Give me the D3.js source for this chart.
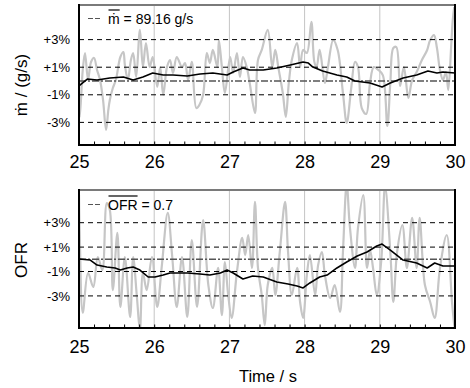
<!DOCTYPE html>
<html>
<head>
<meta charset="utf-8">
<script src="https://cdn.jsdelivr.net/npm/d3@7"></script>
<style>
body { margin: 0; background: #fff; }
svg { display: block; font-family: "Liberation Sans", Arial, sans-serif; }
</style>
</head>
<body>
<script>
// axis values
const timeTicks = [25, 26, 27, 28, 29, 30];
const pctTicks = [3, 1, -1, -3];

// mass flow deviation from mean, % : [time s, value]
const mdotRaw = [[25.00,-1.74],[25.01,-2.61],[25.05,0.80],[25.08,2.03],[25.12,0.07],[25.16,1.38],[25.20,1.67],[25.24,0.80],[25.28,0.07],[25.32,-1.38],[25.36,-3.55],[25.39,-2.10],[25.41,-1.38],[25.45,-0.51],[25.49,0.07],[25.55,1.74],[25.59,2.10],[25.61,1.16],[25.65,0.07],[25.69,1.52],[25.72,2.03],[25.76,0.29],[25.81,3.70],[25.85,1.01],[25.89,2.75],[25.94,1.01],[25.98,1.74],[26.04,-0.43],[26.08,1.01],[26.12,-1.01],[26.17,1.01],[26.21,1.52],[26.25,0.58],[26.30,1.74],[26.37,1.01],[26.41,1.30],[26.45,0.07],[26.50,1.38],[26.56,-1.96],[26.60,-1.74],[26.65,-1.01],[26.70,2.03],[26.74,1.30],[26.78,2.25],[26.84,1.01],[26.86,2.97],[26.90,1.01],[26.94,-0.87],[27.01,1.74],[27.05,0.58],[27.10,2.03],[27.14,0.29],[27.18,1.74],[27.23,1.01],[27.27,-0.14],[27.34,-2.32],[27.38,1.52],[27.43,2.25],[27.51,3.70],[27.57,1.01],[27.61,2.25],[27.65,1.01],[27.71,-0.87],[27.75,-2.61],[27.79,-0.14],[27.83,1.52],[27.90,2.75],[27.94,1.01],[27.98,2.25],[28.03,2.03],[28.09,4.28],[28.13,1.38],[28.16,1.01],[28.20,2.25],[28.27,-0.14],[28.31,1.01],[28.38,2.97],[28.44,2.25],[28.51,-0.87],[28.56,-3.04],[28.62,-0.51],[28.67,1.38],[28.71,1.01],[28.76,-1.96],[28.82,-2.39],[28.87,-0.14],[28.92,1.01],[28.98,0.80],[29.04,0.43],[29.10,-3.26],[29.14,-0.14],[29.18,2.39],[29.22,2.46],[29.27,-0.36],[29.32,1.01],[29.38,-1.23],[29.43,0.07],[29.49,0.65],[29.56,1.52],[29.63,2.25],[29.67,2.97],[29.72,3.33],[29.76,2.39],[29.80,0.80],[29.84,0.07],[29.88,0.65],[29.91,-0.65],[29.95,2.61],[29.97,4.42],[29.99,5.36]];
const mdotAvg = [[25.00,-0.36],[25.11,0.14],[25.24,0.07],[25.41,0.22],[25.59,0.29],[25.72,0.07],[25.85,0.29],[25.98,0.58],[26.12,0.43],[26.25,0.43],[26.44,0.36],[26.61,0.51],[26.78,0.58],[26.97,0.43],[27.05,0.65],[27.18,0.94],[27.27,0.80],[27.45,0.80],[27.63,0.94],[27.81,1.16],[27.98,1.38],[28.05,1.30],[28.11,1.01],[28.24,0.72],[28.43,0.43],[28.56,0.29],[28.67,0.00],[28.87,-0.14],[29.03,-0.43],[29.14,-0.14],[29.31,0.22],[29.49,0.43],[29.64,0.72],[29.76,0.58],[29.84,0.65],[30.00,0.58]];

// OFR deviation from mean, % : [time s, value]
const ofrRaw = [[25.00,5.27],[25.01,1.99],[25.05,-4.37],[25.12,-1.12],[25.19,-2.27],[25.25,0.19],[25.31,-0.88],[25.37,4.61],[25.41,4.04],[25.45,-2.52],[25.51,2.16],[25.55,-3.91],[25.61,0.19],[25.68,-4.73],[25.72,0.19],[25.77,-3.09],[25.81,-5.80],[25.85,-1.12],[25.90,-2.52],[25.97,0.19],[26.04,-3.91],[26.10,-0.63],[26.18,3.80],[26.24,0.19],[26.30,-3.91],[26.37,0.19],[26.44,-4.73],[26.50,1.58],[26.57,-3.91],[26.65,3.22],[26.72,-2.11],[26.78,-3.99],[26.85,-0.71],[26.90,-4.57],[26.94,-0.22],[26.98,-2.68],[27.03,-4.81],[27.10,-1.04],[27.17,1.75],[27.21,0.35],[27.25,1.99],[27.30,-0.71],[27.34,4.70],[27.38,-0.71],[27.43,-2.93],[27.47,-5.39],[27.51,-2.11],[27.57,-0.71],[27.61,-2.93],[27.67,0.60],[27.74,4.70],[27.78,0.60],[27.83,-2.93],[27.90,-0.71],[27.94,-3.50],[27.98,-4.81],[28.03,-1.29],[28.07,0.35],[28.14,-2.93],[28.18,-0.47],[28.23,0.60],[28.27,-1.29],[28.34,-3.17],[28.40,-2.11],[28.47,-4.32],[28.51,0.60],[28.56,6.20],[28.60,2.81],[28.67,-0.71],[28.71,2.57],[28.78,5.27],[28.83,-0.71],[28.87,0.76],[28.91,-0.71],[28.96,-2.93],[29.02,-0.06],[29.07,6.00],[29.14,0.60],[29.18,-3.50],[29.23,0.60],[29.30,2.81],[29.36,-0.71],[29.43,3.39],[29.49,-0.71],[29.53,3.39],[29.60,-2.11],[29.67,-3.50],[29.73,-4.81],[29.80,-0.71],[29.89,1.99],[29.96,-3.50],[29.99,-5.39],[30.00,-5.80]];
const ofrAvg = [[25.00,0.02],[25.15,-0.06],[25.24,-0.47],[25.37,-0.63],[25.48,-0.71],[25.55,-0.88],[25.64,-0.71],[25.72,-0.63],[25.81,-0.88],[25.92,-1.45],[26.01,-1.45],[26.12,-1.29],[26.21,-1.12],[26.30,-1.12],[26.44,-1.12],[26.61,-1.20],[26.74,-1.29],[26.88,-1.12],[26.97,-0.88],[27.05,-1.12],[27.18,-1.61],[27.31,-1.37],[27.45,-1.45],[27.63,-1.86],[27.78,-2.02],[27.90,-2.19],[27.98,-2.35],[28.07,-1.94],[28.20,-1.45],[28.30,-1.29],[28.43,-0.71],[28.56,-0.22],[28.70,0.27],[28.83,0.60],[28.96,1.09],[29.03,1.25],[29.14,0.76],[29.31,-0.06],[29.49,-0.30],[29.63,-0.71],[29.73,-0.30],[29.84,-0.55],[30.00,-0.55]];

const panels = [
    { name: "mdot", top: 5, bottom: 145, domain: [-4.64, 5.51], raw: mdotRaw, avg: mdotAvg,
      sym: "ṁ", rest: " = 89.16 g/s", legendY: 23.5, title: "ṁ / (g/s)", titleY: 85, labelPad: 10 },
    { name: "ofr", top: 190, bottom: 328, domain: [-5.63, 5.68], raw: ofrRaw, avg: ofrAvg,
      sym: "OFR", rest: " = 0.7", legendY: 209.5, title: "OFR", titleY: 260, labelPad: 12 }
];

const svg = d3.select("body").append("svg")
    .attr("width", 470)
    .attr("height", 388);

const left = 79, right = 455;
const x = d3.scaleLinear().domain([25, 30]).range([left, right]);
const minorTicks = d3.range(25, 30.001, 0.2);

panels.forEach(p => {
    const y = d3.scaleLinear().domain(p.domain).range([p.bottom, p.top]);
    const g = svg.append("g");
    const clipId = "clip-" + p.name;

    svg.append("clipPath").attr("id", clipId)
        .append("rect")
        .attr("x", left).attr("y", p.top)
        .attr("width", right - left).attr("height", p.bottom - p.top);

    //vertical grid
    g.selectAll(".vgrid").data(timeTicks.slice(1, -1)).enter()
        .append("line")
        .attr("x1", d => x(d)).attr("x2", d => x(d))
        .attr("y1", p.top).attr("y2", p.bottom)
        .attr("stroke", "#c4c4c4").attr("stroke-width", 1);

    const rawLine = d3.line().curve(d3.curveCatmullRom.alpha(0.5)).x(d => x(d[0])).y(d => y(d[1]));
    const avgLine = d3.line().x(d => x(d[0])).y(d => y(d[1]));

    //raw signal
    g.append("path").datum(p.raw)
        .attr("d", rawLine)
        .attr("fill", "none")
        .attr("stroke", "#c6c6c6")
        .attr("stroke-width", 2.2)
        .attr("stroke-linejoin", "round")
        .attr("clip-path", `url(#${clipId})`);

    //percent lines
    g.selectAll(".hgrid").data(pctTicks).enter()
        .append("line")
        .attr("x1", left).attr("x2", right)
        .attr("y1", d => y(d)).attr("y2", d => y(d))
        .attr("stroke", "#000").attr("stroke-width", 1)
        .attr("stroke-dasharray", "5,4");

    //mean line
    g.append("line")
        .attr("x1", left).attr("x2", right)
        .attr("y1", y(0)).attr("y2", y(0))
        .attr("stroke", "#555").attr("stroke-width", 1.5)
        .attr("stroke-dasharray", "7,2,2,2");

    //moving average
    g.append("path").datum(p.avg)
        .attr("d", avgLine)
        .attr("fill", "none")
        .attr("stroke", "#000")
        .attr("stroke-width", 1.6)
        .attr("stroke-linejoin", "round");

    //minor ticks
    g.append("g")
        .attr("transform", `translate(0, ${p.bottom})`)
        .call(d3.axisBottom(x).tickValues(minorTicks).tickSizeInner(-3.5).tickSizeOuter(0).tickFormat(""))
        .call(a => a.select(".domain").remove())
        .selectAll("line").attr("stroke", "#000");

    //x labels
    const xa = g.append("g")
        .attr("transform", `translate(0, ${p.bottom})`)
        .call(d3.axisBottom(x).tickValues(timeTicks).tickSize(0).tickPadding(p.labelPad).tickFormat(d3.format("d")));
    xa.select(".domain").remove();
    xa.attr("font-family", null).attr("font-size", 18);
    xa.selectAll("text").attr("fill", "#000");

    //y labels
    const ya = g.append("g")
        .attr("transform", `translate(${left}, 0)`)
        .call(d3.axisLeft(y).tickValues(pctTicks).tickSize(0).tickPadding(9)
            .tickFormat(d => (d > 0 ? "+" : "") + d + "%"));
    ya.select(".domain").remove();
    ya.attr("font-family", null).attr("font-size", 13);
    ya.selectAll("text").attr("fill", "#000");

    //frame
    g.append("line").attr("x1", left).attr("x2", right).attr("y1", p.top).attr("y2", p.top)
        .attr("stroke", "#7a7a7a").attr("stroke-width", 2);
    g.append("line").attr("x1", left).attr("x2", left).attr("y1", p.top - 1).attr("y2", p.bottom + 1)
        .attr("stroke", "#000").attr("stroke-width", 2);
    g.append("line").attr("x1", right).attr("x2", right).attr("y1", p.top - 1).attr("y2", p.bottom + 1)
        .attr("stroke", "#000").attr("stroke-width", 2);
    g.append("line").attr("x1", left).attr("x2", right).attr("y1", p.bottom).attr("y2", p.bottom)
        .attr("stroke", "#000").attr("stroke-width", 2);

    //legend
    const ly = p.legendY;
    g.append("line")
        .attr("x1", 88).attr("x2", 101)
        .attr("y1", ly - 5).attr("y2", ly - 5)
        .attr("stroke", "#555").attr("stroke-width", 1.2)
        .attr("stroke-dasharray", "5,2");
    const lt = g.append("text")
        .attr("x", 108).attr("y", ly)
        .attr("font-size", 14).attr("fill", "#000");
    const symSpan = lt.append("tspan").text(p.sym);
    lt.append("tspan").text(p.rest);
    const sw = symSpan.node().getComputedTextLength();
    g.append("line")
        .attr("x1", 108.5).attr("x2", 108 + sw)
        .attr("y1", ly - 13.5).attr("y2", ly - 13.5)
        .attr("stroke", "#000").attr("stroke-width", 1.2);

    //y title
    g.append("text")
        .attr("transform", `translate(27, ${p.titleY}) rotate(-90)`)
        .attr("text-anchor", "middle")
        .attr("font-size", 17)
        .attr("fill", "#000")
        .text(p.title);
});

//x title
svg.append("text")
    .attr("x", 268).attr("y", 382)
    .attr("text-anchor", "middle")
    .attr("font-size", 16.5)
    .attr("fill", "#000")
    .text("Time / s");
</script>
</body>
</html>
